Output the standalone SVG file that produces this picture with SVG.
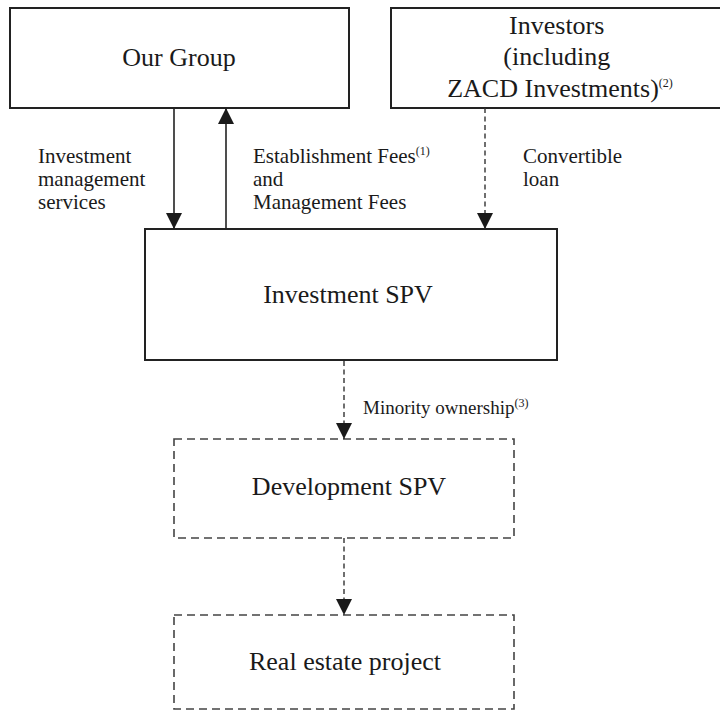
<svg xmlns="http://www.w3.org/2000/svg" width="720" height="713" viewBox="0 0 720 713">
  <style>
    .frame { fill: #fff; stroke: #222; stroke-width: 2; }
    .dframe { fill: none; stroke: #444; stroke-width: 1.6; stroke-dasharray: 8 5; }
    .big { font-size: 26px; fill: #1a1a1a; }
    .small { font-size: 21px; fill: #1a1a1a; }
    .sup { font-size: 12px; }
    .solid { stroke: #222; stroke-width: 1.6; fill: none; }
    .dash { stroke: #333; stroke-width: 1.4; fill: none; stroke-dasharray: 5 3.5; }
  </style>
  <defs>
    <marker id="arrow" viewBox="0 0 16 16" refX="16" refY="8" markerWidth="16" markerHeight="16" markerUnits="userSpaceOnUse" orient="auto">
      <path d="M0,0 L16,8 L0,16 Z" fill="#1a1a1a"/>
    </marker>
  </defs>
  <rect width="720" height="713" fill="#fff"/>

  <g id="our-group">
    <rect class="frame" x="10" y="8" width="339" height="100"/>
    <text class="big" x="179" y="66" text-anchor="middle" style="font-family: 'Liberation Serif', serif">Our Group</text>
  </g>

  <g id="investors">
    <rect class="frame" x="391" y="8" width="340" height="100"/>
    <text class="big" text-anchor="middle" style="font-family: 'Liberation Serif', serif">
      <tspan x="560" y="34">Investors</tspan>
      <tspan x="560" y="65">(including</tspan>
      <tspan x="560" y="97">ZACD Investments)<tspan class="sup" dy="-10">(2)</tspan></tspan>
    </text>
  </g>

  <g id="investment-spv">
    <rect class="frame" x="145" y="229" width="412" height="131"/>
    <text class="big" x="348" y="303" text-anchor="middle" style="font-family: 'Liberation Serif', serif">Investment SPV</text>
  </g>

  <g id="development-spv">
    <rect class="dframe" x="174" y="439" width="340" height="99"/>
    <text class="big" x="349" y="495" text-anchor="middle" style="font-family: 'Liberation Serif', serif">Development SPV</text>
  </g>

  <g id="real-estate-project">
    <rect class="dframe" x="174" y="615" width="340" height="94"/>
    <text class="big" x="345" y="670" text-anchor="middle" style="font-family: 'Liberation Serif', serif">Real estate project</text>
  </g>

  <g id="connectors">
    <line class="solid" x1="174" y1="108" x2="174" y2="229" marker-end="url(#arrow)"/>
    <line class="solid" x1="226" y1="229" x2="226" y2="108" marker-end="url(#arrow)"/>
    <line class="dash" x1="485" y1="108" x2="485" y2="229" marker-end="url(#arrow)"/>
    <line class="dash" x1="344" y1="361" x2="344" y2="439" marker-end="url(#arrow)"/>
    <line class="dash" x1="344" y1="538" x2="344" y2="615" marker-end="url(#arrow)"/>

    <text class="small" style="font-family: 'Liberation Serif', serif">
      <tspan x="38" y="163">Investment</tspan>
      <tspan x="38" y="186">management</tspan>
      <tspan x="38" y="209">services</tspan>
    </text>
    <text class="small" style="font-family: 'Liberation Serif', serif">
      <tspan x="253" y="163">Establishment Fees<tspan class="sup" dy="-8">(1)</tspan></tspan>
      <tspan x="253" y="186">and</tspan>
      <tspan x="253" y="209">Management Fees</tspan>
    </text>
    <text class="small" style="font-family: 'Liberation Serif', serif">
      <tspan x="523" y="163">Convertible</tspan>
      <tspan x="523" y="186">loan</tspan>
    </text>
    <text class="small" x="363" y="414" style="font-family: 'Liberation Serif', serif; font-size: 19px">Minority ownership<tspan class="sup" dy="-7">(3)</tspan></text>
  </g>
</svg>
